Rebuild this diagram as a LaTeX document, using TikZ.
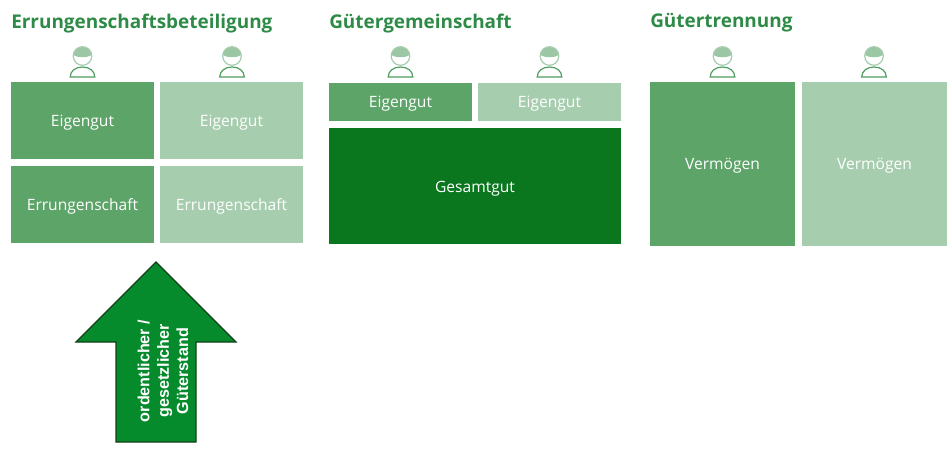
\documentclass[tikz,border=0pt]{standalone}
\usepackage{fontspec}
\setmainfont{Open Sans}
\newfontfamily\arrowfont{Liberation Sans}
\definecolor{midg}{HTML}{5DA469}
\definecolor{lightg}{HTML}{A6CDAE}
\definecolor{darkg}{HTML}{0A771F}
\definecolor{titleg}{HTML}{2E8B47}
\definecolor{arrowg}{HTML}{058A2C}
\definecolor{arrowedge}{HTML}{123F18}
\tikzset{
  cell/.style={inner sep=0pt,outer sep=0pt,text=white,font=\fontsize{11.7}{13}\selectfont,anchor=north west,text height=9pt,text depth=0pt},
  midcell/.style={cell,fill=midg},
  lightcell/.style={cell,fill=lightg},
  darkcell/.style={cell,fill=darkg},
  titletext/.style={anchor=base west,inner sep=0pt,text=titleg,font=\fontsize{14.2}{16}\selectfont\bfseries},
  person/.pic={
    \fill[lightg!85!midg] (-9.3,-1) .. controls (-9,-6) and (-5,-9.3) .. (0,-9.3) .. controls (5,-9.3) and (9,-6) .. (9.3,-1) .. controls (5,2) and (-5,2) .. cycle;
    \draw[lightg,line width=0.9pt] (0,0) circle[radius=9.3];
    \draw[midg!70!titleg,line width=0.9pt] (-12.3,21) .. controls (-12.3,15) and (-7,11) .. (0,11) .. controls (7,11) and (12.3,15) .. (12.3,21) -- cycle;
  }
}
\newcommand{\bx}[6]{\node[#1,minimum width=#4*0.75pt,minimum height=#5*0.75pt] (#2) at (#3) {#6};}
\begin{document}
\begin{tikzpicture}[x=0.75pt,y=-0.75pt]
\useasboundingbox (0,0) rectangle (952,456);
\node[titletext] (t1) at (11,28.5) {Errungenschaftsbeteiligung};
\node[titletext] (t2) at (329,28.5) {Gütergemeinschaft};
\node[titletext] (t3) at (650,27.5) {Gütertrennung};
\pic at (82.5,56) {person};
\pic at (232,56) {person};
\pic at (400.5,56) {person};
\pic at (549.5,56) {person};
\pic at (722.5,56) {person};
\pic at (874,56) {person};
\bx{midcell}{a}{11,82}{143}{77}{Eigengut}
\bx{lightcell}{b}{160,82}{143}{77}{Eigengut}
\bx{midcell}{c}{11,166}{143}{77}{Errungenschaft}
\bx{lightcell}{d}{160,166}{143}{77}{Errungenschaft}
\bx{midcell}{e}{329,83}{143}{38}{Eigengut}
\bx{lightcell}{f}{478,83}{143}{38}{Eigengut}
\bx{darkcell}{g}{329,128}{292}{116}{Gesamtgut}
\bx{midcell}{h}{650,82}{145}{164}{Vermögen}
\bx{lightcell}{i}{802,82}{145}{164}{Vermögen}
\draw[fill=arrowg,draw=arrowedge,line width=0.9pt,line join=miter]
  (156,262) -- (236,342) -- (196,342) -- (196,442) -- (116,442) -- (116,342) -- (76,342) -- cycle;
\node[rotate=90,text=white,align=center,inner sep=0pt,font=\arrowfont\fontsize{12.1}{14.6}\selectfont\bfseries] (arrowtext) at (163,371) {ordentlicher /\\gesetzlicher\\Güterstand};
\end{tikzpicture}
\end{document}
